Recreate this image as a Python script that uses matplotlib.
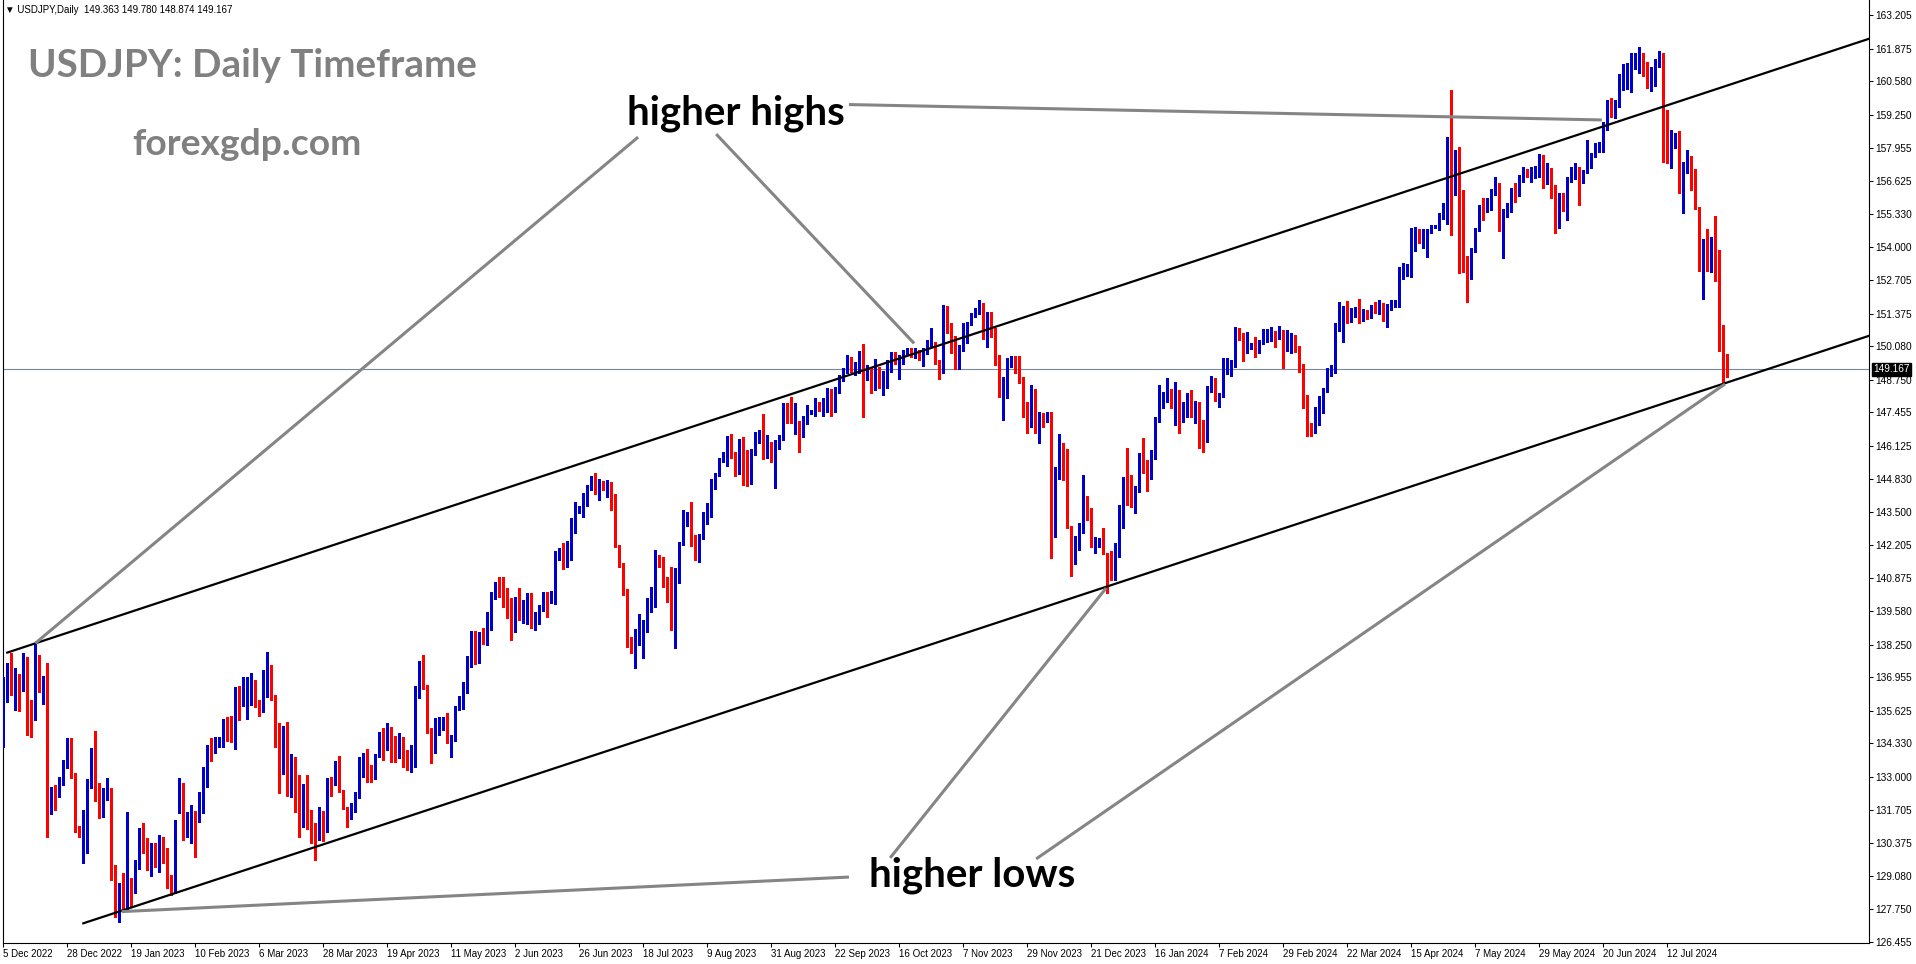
#!/usr/bin/env python

import numpy as np
import matplotlib as mpl
mpl.use('Agg')
import matplotlib.pyplot as plt

mpl.rcParams['font.family'] = ['Liberation Sans', 'DejaVu Sans']
mpl.rcParams['font.size'] = 7
mpl.rcParams['axes.linewidth'] = 0.8
mpl.rcParams['savefig.facecolor'] = 'white'

# ---- data: USDJPY daily candles, 5 Dec 2022 .. 2 Aug 2024 ----
open_px = [
    134.53,136.71,136.91,136.67,136.71,136.45,137.73,135.59,135.52,137.83,135.94,136.98,131.72,132.55,132.35,132.88,
    133.54,134.53,133.05,131.03,130.74,131.06,132.61,133.47,132.02,131.95,132.28,132.44,129.28,127.88,128.52,127.79,
    128.94,128.49,129.64,130.70,130.24,129.64,130.30,129.71,130.47,130.10,129.02,128.75,132.48,132.72,131.05,131.40,
    131.62,131.27,132.41,133.14,134.20,134.00,134.20,134.27,135.06,134.97,134.73,136.51,136.22,136.18,136.21,136.80,
    135.98,135.95,137.17,137.37,136.18,134.57,133.17,134.27,133.40,133.76,131.85,131.36,132.55,131.49,130.86,130.57,
    131.62,130.90,132.90,132.72,133.43,132.46,131.76,131.40,131.82,132.22,133.64,133.70,133.20,133.00,133.83,134.49,
    134.13,134.73,134.31,134.04,134.31,134.04,133.67,133.96,136.18,137.53,136.61,134.73,134.27,134.70,135.02,135.23,
    134.36,134.49,135.68,136.12,136.38,137.70,138.76,138.01,138.70,138.59,139.42,140.08,140.61,140.48,139.82,139.38,
    138.83,139.99,139.62,139.62,140.15,138.96,139.33,139.62,140.25,140.08,140.28,141.67,142.00,141.47,141.87,143.08,
    143.47,143.48,144.09,144.48,144.71,144.24,144.67,144.45,144.64,144.11,142.16,141.37,140.41,138.50,138.06,138.63,
    138.72,138.83,139.62,140.08,141.60,141.50,140.91,140.28,139.46,140.94,142.26,143.32,143.32,142.55,141.73,142.46,
    143.39,143.74,144.71,145.01,145.56,145.56,146.39,145.86,145.30,146.20,145.94,144.77,145.83,146.43,146.52,145.86,
    146.23,145.54,146.07,146.39,147.75,147.68,147.25,146.99,146.52,147.05,147.45,147.45,147.71,147.58,147.52,148.37,
    147.52,148.28,148.84,149.07,149.60,149.27,149.53,149.82,149.00,149.16,148.47,149.11,148.44,148.63,149.13,149.77,
    149.29,149.50,149.80,149.90,149.77,149.82,149.69,149.82,150.13,150.19,149.50,149.03,151.54,150.96,150.39,149.33,
    149.99,150.30,150.99,151.36,151.38,151.71,150.56,151.41,150.75,149.56,148.33,148.37,149.50,149.53,149.40,148.71,
    147.52,147.26,148.18,146.69,147.26,147.12,147.35,144.14,144.91,146.20,145.50,142.92,141.84,142.02,142.72,143.82,
    143.58,142.13,142.20,142.33,141.84,141.36,140.88,141.76,143.29,144.64,144.48,144.17,144.44,145.77,145.27,144.88,
    145.63,147.13,148.10,148.01,148.24,147.55,148.27,147.35,147.52,148.10,147.28,147.55,146.89,146.43,148.41,148.63,
    147.88,148.10,149.27,149.27,149.27,150.75,150.52,149.86,150.06,150.09,149.86,150.26,150.50,150.50,150.66,150.43,
    150.69,149.93,150.06,150.48,150.03,149.33,147.97,147.02,146.78,147.66,147.71,148.34,148.94,149.03,150.83,151.22,
    151.62,151.22,151.41,151.51,151.22,151.36,151.22,151.64,151.51,151.62,151.32,151.58,151.75,151.64,153.08,153.20,
    152.99,154.22,154.66,154.32,154.61,154.66,154.79,154.71,155.19,155.51,157.83,156.27,157.66,154.40,153.63,152.90,
    153.86,154.69,155.51,155.45,155.61,156.11,156.40,154.85,155.37,155.58,156.25,156.07,156.74,156.96,156.83,156.83,
    157.09,157.57,156.77,157.09,156.04,154.85,156.07,155.48,156.67,156.96,157.07,156.60,156.96,157.17,157.66,157.83,
    158.02,158.85,159.68,159.47,159.60,160.66,160.63,160.63,161.40,161.36,161.63,161.19,160.70,160.70,161.19,161.59,
    158.81,157.96,158.02,158.32,156.14,157.33,157.36,157.00,155.55,153.80,153.89,153.52,153.96,152.73,149.90,149.363,
]
high_px = [
    136.98,137.50,137.93,137.31,137.10,137.90,137.75,136.05,138.30,137.83,137.00,137.50,132.60,132.68,133.01,133.67,
    134.56,134.55,133.14,131.06,131.69,132.90,134.13,134.83,132.75,132.55,132.94,132.55,129.51,128.78,129.18,131.62,
    128.98,129.71,130.96,131.19,130.57,130.37,130.37,130.70,130.63,130.17,129.11,131.29,132.97,132.75,131.62,131.89,
    131.65,132.42,133.41,134.27,134.53,134.60,134.57,135.28,135.36,135.42,136.58,136.61,136.95,136.98,137.13,136.84,
    136.05,137.24,137.97,137.42,136.25,135.13,135.00,135.19,133.91,133.80,133.08,132.72,133.08,131.69,131.19,131.82,
    131.66,132.94,132.98,133.64,133.83,132.48,131.80,131.95,132.41,133.80,133.94,134.09,133.47,133.91,134.80,134.93,
    135.15,134.99,134.62,134.75,134.60,134.07,134.27,136.61,137.61,137.83,136.65,134.93,135.32,135.39,135.39,135.55,
    134.66,135.81,136.21,136.78,137.80,138.80,138.80,138.76,138.89,139.55,140.35,140.74,140.94,140.94,140.48,140.08,
    140.15,140.48,140.02,140.28,140.28,139.55,139.82,140.35,140.35,140.38,141.97,142.07,142.26,142.37,143.25,143.91,
    143.74,144.25,144.58,144.93,145.06,144.80,144.75,144.78,144.71,144.22,142.20,141.47,140.45,138.56,138.88,139.46,
    139.22,140.08,140.55,141.99,141.80,141.73,140.94,141.31,141.27,142.33,143.58,143.52,143.91,142.59,142.63,143.52,
    143.85,144.80,145.04,145.63,145.90,146.50,146.60,145.90,146.40,146.49,145.96,145.99,146.69,146.76,147.39,146.56,
    146.29,146.36,146.56,147.81,147.84,148.05,147.81,147.12,147.31,147.75,147.55,148.01,147.88,148.01,148.41,148.40,
    148.47,148.94,149.20,149.73,149.66,149.46,149.90,150.17,149.33,149.24,149.56,149.27,149.11,149.53,149.86,149.86,
    149.73,149.93,149.99,149.99,149.99,149.93,149.99,150.32,150.79,150.26,149.53,151.71,151.67,150.99,150.48,150.13,
    150.99,151.05,151.41,151.58,151.91,151.78,151.45,151.45,150.79,149.73,148.84,149.60,149.69,149.69,149.69,148.84,
    147.88,148.54,148.37,147.48,147.42,147.48,147.48,145.30,146.60,146.24,145.99,142.95,142.55,143.08,144.97,144.14,
    143.65,142.53,142.46,142.86,141.87,141.97,142.26,143.78,144.91,146.03,144.97,144.53,145.86,146.43,145.57,145.96,
    147.28,148.54,148.28,148.80,148.37,148.67,148.34,147.88,148.24,148.34,147.92,147.88,147.15,148.50,148.90,148.80,
    148.24,149.60,149.60,149.53,150.85,150.79,150.59,150.66,150.22,150.43,150.32,150.75,150.75,150.83,150.70,150.88,
    150.72,150.72,150.61,150.52,150.09,149.37,148.14,147.05,147.68,148.10,148.41,149.20,149.33,151.01,151.84,151.67,
    151.88,151.58,151.62,151.97,151.54,151.51,151.71,151.84,151.91,151.80,151.75,151.93,151.93,153.23,153.36,153.34,
    154.75,154.82,154.71,154.71,154.71,154.88,154.88,155.37,155.77,158.39,160.24,157.86,157.96,156.27,153.66,153.96,
    154.75,155.68,155.94,155.94,156.30,156.80,156.54,155.51,155.74,156.34,156.54,156.87,157.20,157.09,157.17,157.22,
    157.70,157.66,157.36,157.13,156.47,156.17,156.14,156.78,157.20,157.36,157.17,157.07,158.25,157.73,158.12,158.19,
    158.95,159.84,159.91,159.84,160.87,161.27,161.30,161.69,161.72,161.93,161.69,161.36,161.14,161.45,161.80,161.72,
    159.44,158.65,158.52,158.62,157.40,157.86,157.62,157.09,155.61,154.32,154.71,154.40,155.24,153.89,150.92,149.780,
]
low_px = [
    134.17,135.98,136.25,135.65,135.63,136.40,134.66,134.57,135.26,136.38,135.90,130.63,131.53,131.69,132.22,132.68,
    133.34,132.94,130.83,130.60,129.57,129.97,132.55,132.05,131.36,131.43,132.08,128.91,127.46,127.26,127.72,127.72,
    127.86,128.38,129.34,129.97,129.31,129.07,129.44,129.24,129.57,128.58,128.32,128.38,131.56,130.50,130.63,130.39,
    129.84,131.23,131.56,132.61,133.64,133.96,134.18,134.20,134.44,134.40,134.09,135.26,135.81,135.28,135.85,135.79,
    135.42,135.59,136.18,136.05,134.17,132.35,133.12,132.24,132.22,131.62,130.63,131.03,130.92,130.37,129.71,130.50,
    130.47,130.83,132.24,132.68,132.42,131.72,131.00,131.32,131.62,132.18,133.01,132.78,132.80,132.90,133.78,133.67,
    134.07,133.60,133.60,133.74,133.41,133.27,133.20,133.41,136.12,136.50,134.76,133.54,133.94,134.66,134.86,134.36,
    133.78,134.44,135.64,135.68,136.31,137.35,137.48,137.53,138.27,138.23,138.83,140.04,140.15,139.75,139.32,138.43,
    138.76,139.22,139.09,139.06,138.89,138.83,139.06,139.59,139.33,139.91,139.86,141.60,141.23,141.31,141.60,142.69,
    143.45,143.29,143.74,144.38,144.20,143.98,144.38,144.11,143.58,142.10,141.31,140.22,138.17,137.90,137.31,138.23,
    137.70,138.76,139.55,139.72,141.31,140.55,139.95,138.83,138.10,140.70,142.20,142.95,142.16,141.60,141.54,142.42,
    143.03,143.29,144.40,144.95,145.50,145.33,145.63,144.93,145.00,144.58,144.53,144.61,145.76,146.23,145.59,145.63,
    145.50,144.44,145.99,146.35,147.05,147.05,146.60,145.90,146.49,147.00,147.39,147.31,147.52,147.31,147.48,147.31,
    147.48,148.21,148.71,149.03,149.07,148.94,149.03,147.28,148.74,148.24,148.34,148.44,148.14,148.44,149.07,149.37,
    148.77,149.37,149.73,149.66,149.63,149.53,149.29,149.77,150.06,149.37,148.77,149.00,150.62,149.82,149.16,149.16,
    149.90,150.19,150.92,151.22,151.36,150.35,150.03,150.46,149.33,148.05,147.15,148.01,149.24,149.03,148.63,147.28,
    146.65,146.86,146.65,146.23,146.86,147.09,141.67,142.53,144.80,144.77,142.89,140.97,141.44,141.99,142.66,143.19,
    142.10,141.89,142.10,141.83,140.28,140.81,140.81,141.71,142.89,143.78,143.69,143.45,144.31,145.04,144.35,144.80,
    145.59,147.09,147.62,147.88,147.62,146.95,146.65,147.09,147.28,147.26,147.02,146.03,145.90,146.30,148.28,147.92,
    147.66,148.05,148.98,148.90,149.24,150.32,149.51,149.80,149.96,149.66,149.82,150.17,150.26,150.30,150.06,150.35,
    149.20,149.90,149.80,149.86,149.07,147.62,146.52,146.52,146.63,146.95,147.44,148.28,148.90,149.00,150.69,150.26,
    150.98,151.05,151.22,151.01,151.09,151.14,151.18,151.38,151.36,151.09,150.83,151.51,151.64,151.62,152.73,152.86,
    152.81,153.87,154.16,153.96,153.60,154.58,154.75,154.69,155.11,154.93,154.49,156.07,152.99,153.03,151.84,152.73,
    153.83,154.63,155.08,155.41,155.48,156.07,154.66,153.56,155.22,155.41,155.81,156.03,156.60,156.80,156.60,156.74,
    156.80,156.34,156.51,155.94,154.56,154.75,155.45,155.08,156.60,156.70,155.68,156.54,156.93,157.13,157.60,157.79,
    157.79,158.65,159.15,159.11,159.55,160.24,160.26,160.17,161.06,160.93,160.79,160.30,160.21,160.40,161.14,157.40,
    157.33,157.13,157.93,156.14,155.35,156.93,156.27,155.51,153.07,151.94,153.07,153.03,152.68,149.90,148.67,148.874,
]
close_px = [
    136.91,137.13,136.62,136.74,136.62,137.73,135.65,135.52,137.83,136.78,136.98,131.76,132.51,132.42,132.88,133.54,
    134.53,133.05,131.16,130.63,131.06,132.72,133.47,132.11,131.93,132.32,132.55,129.38,127.88,128.58,128.19,128.98,
    128.49,129.67,130.74,130.24,129.64,130.30,129.84,130.50,130.10,129.02,128.75,131.27,132.72,131.09,131.49,131.58,
    131.45,132.41,133.14,134.20,134.00,134.20,134.33,135.10,134.97,134.73,136.51,136.29,136.28,136.24,136.80,135.85,
    135.89,137.20,137.40,136.18,135.13,133.30,134.27,132.28,133.83,131.93,131.36,132.51,131.36,130.92,130.76,131.62,
    130.92,132.90,132.75,132.85,132.46,131.76,131.40,131.82,132.22,133.67,133.74,133.17,133.00,133.80,134.57,134.13,
    134.77,134.31,134.13,134.31,133.78,133.67,134.07,136.31,137.53,136.58,134.80,134.33,135.12,135.19,135.32,134.40,
    134.62,135.79,136.18,136.45,137.77,138.76,138.01,138.36,138.63,139.51,140.28,140.68,140.44,139.78,139.36,138.83,
    140.02,139.65,139.71,140.21,138.96,139.42,139.65,140.25,140.12,140.35,141.93,142.03,141.47,141.93,143.12,143.88,
    143.55,144.11,144.54,144.80,144.27,144.71,144.48,144.71,144.09,142.13,141.34,140.39,138.54,138.06,138.85,138.80,
    138.89,139.69,140.15,141.89,141.50,140.91,140.28,139.49,141.21,142.29,143.39,143.36,142.53,141.76,142.50,143.45,
    143.74,144.77,145.01,145.59,145.63,146.43,145.86,145.37,146.23,145.90,144.84,145.90,146.49,146.56,145.86,146.23,
    145.54,146.29,146.49,147.75,147.66,147.28,147.79,146.56,147.09,147.48,147.48,147.88,147.58,147.94,148.37,147.55,
    148.41,148.90,149.13,149.66,149.37,149.37,149.86,149.03,149.16,148.47,149.24,148.47,148.74,149.37,149.82,149.56,
    149.66,149.86,149.93,149.77,149.86,149.69,149.90,150.26,150.39,149.47,149.03,151.67,150.92,150.39,149.33,150.09,
    150.52,150.99,151.36,151.51,151.71,150.56,151.41,150.75,149.56,148.37,148.41,149.56,149.56,149.40,148.67,147.44,
    147.26,148.24,146.82,147.26,147.18,147.35,144.14,145.24,146.20,145.46,142.92,141.87,142.53,142.86,143.85,143.58,
    142.13,142.46,142.42,141.87,141.40,141.01,142.03,143.35,144.64,144.53,144.25,144.51,145.81,145.30,144.91,145.81,
    147.18,148.18,148.21,148.21,148.10,148.37,147.52,147.68,148.14,147.48,147.62,146.89,146.43,148.45,148.67,147.97,
    148.18,149.33,149.33,149.40,150.79,150.59,149.93,150.19,150.13,149.99,150.30,150.56,150.56,150.69,150.50,150.75,
    149.99,150.13,150.56,150.03,149.37,148.05,147.09,146.91,147.65,147.81,148.34,149.07,149.16,150.88,151.22,151.64,
    151.45,151.45,151.54,151.32,151.41,151.30,151.67,151.51,151.71,151.32,151.67,151.84,151.80,153.13,153.26,153.26,
    154.22,154.71,154.32,154.66,154.66,154.84,154.87,155.35,155.64,158.28,156.27,157.83,154.36,153.63,152.90,153.89,
    154.69,155.55,155.45,155.77,156.23,156.43,154.85,155.41,155.64,156.27,156.17,156.83,156.96,156.87,156.93,157.17,
    157.66,156.77,157.27,156.07,154.85,156.11,155.58,156.74,157.04,157.13,156.67,156.96,157.40,157.70,157.86,158.10,
    158.92,159.77,159.58,159.64,160.79,160.76,160.83,161.43,161.45,161.69,161.19,160.74,160.83,161.27,161.66,158.85,
    157.89,158.41,158.41,156.17,157.36,157.53,157.04,155.55,153.87,153.92,153.73,154.05,152.73,149.95,149.40,149.167,
]

last_price = 149.167

# date labels every 16 bars
date_labels = ['5 Dec 2022', '28 Dec 2022', '19 Jan 2023', '10 Feb 2023', '6 Mar 2023', '28 Mar 2023',
               '19 Apr 2023', '11 May 2023', '2 Jun 2023', '26 Jun 2023', '18 Jul 2023', '9 Aug 2023',
               '31 Aug 2023', '22 Sep 2023', '16 Oct 2023', '7 Nov 2023', '29 Nov 2023', '21 Dec 2023',
               '16 Jan 2024', '7 Feb 2024', '29 Feb 2024', '22 Mar 2024', '15 Apr 2024', '7 May 2024',
               '29 May 2024', '20 Jun 2024', '12 Jul 2024']
date_bars = [16 * k for k in range(len(date_labels))]

price_ticks = [163.205, 161.875, 160.580, 159.250, 157.955, 156.625, 155.330, 154.000, 152.705, 151.375,
               150.080, 148.750, 147.455, 146.125, 144.830, 143.500, 142.205, 140.875, 139.580, 138.250,
               136.955, 135.625, 134.330, 133.000, 131.705, 130.375, 129.080, 127.750, 126.455]

# channel lines (bar index, price)
upper_x = [1.0, 480.0]
upper_y = [137.93, 162.98]
lower_x = [20.0, 480.0]
lower_y = [127.196, 151.20]

# grey pointer lines (bar index, price)
hh_lines = [([8.0, 158.7], [138.30, 158.37]),
            ([178.2, 227.7], [158.49, 150.19]),
            ([211.4, 399.6], [159.66, 159.05])]
hl_lines = [([29.6, 211.4], [127.66, 129.03]),
            ([221.7, 275.7], [129.79, 140.49]),
            ([258.2, 430.4], [129.75, 148.58])]

BLUE = '#0000cc'
RED = '#ff0000'
W, H = 1916, 964

fig = plt.figure(figsize=(W / 100, H / 100), dpi=100)
ax = fig.add_axes([2.5 / W, (H - 943) / H, (1869 - 2.5) / W, 943 / H])

o = np.array(open_px)
hi = np.array(high_px)
lo = np.array(low_px)
c = np.array(close_px)
idx = np.arange(len(c))
col = np.where(c >= o, BLUE, RED)

ax.vlines(idx, lo, hi, colors=col, linewidth=0.75, antialiased=False, zorder=3)
body_h = np.maximum(np.abs(c - o), 0.04)
ax.bar(idx, body_h, bottom=np.minimum(o, c), width=0.78, color=col, linewidth=0,
       antialiased=False, zorder=3)

ax.axhline(last_price, color='#778899', lw=0.8, zorder=2)

ax.plot(upper_x, upper_y, color='black', lw=1.6, zorder=4)
ax.plot(lower_x, lower_y, color='black', lw=1.6, zorder=4)
for xs, ys in hh_lines + hl_lines:
    ax.plot(xs, ys, color='#858585', lw=2.2, zorder=5, solid_capstyle='butt')

ax.set_xlim(-0.2, 466.4)
ax.set_ylim(126.415, 163.806)

ax.spines['top'].set_visible(False)
ax.yaxis.tick_right()
ax.set_yticks(price_ticks)
ax.set_yticklabels(['%.3f' % p for p in price_ticks])
ax.set_xticks(date_bars)
ax.set_xticklabels(date_labels, ha='left')
ax.tick_params(axis='both', direction='out', length=3, width=0.75, pad=1.5, labelsize=7.3)
ax.tick_params(axis='x', pad=1.0, labelsize=7)

# current price box
fig.text(1873 / W, 1 - 369.5 / H, '149.167', color='white', fontsize=7.3, ha='left', va='center',
         bbox=dict(boxstyle='square,pad=0.12', fc='black', ec='black'))

# header and annotations
fig.text(5 / W, 1 - 10 / H, '\u25bc USDJPY,Daily  149.363 149.780 148.874 149.167',
         fontsize=7, ha='left', va='center')
lato = ['Lato', 'DejaVu Sans']
fig.text(28 / W, 1 - 77 / H, 'USDJPY: Daily Timeframe', color='#808080', ha='left', va='baseline',
         family=lato, weight='bold', fontsize=27.8)
fig.text(132 / W, 1 - 155 / H, 'forexgdp.com', color='#808080', ha='left', va='baseline',
         family=lato, weight='bold', fontsize=26.8)
fig.text(627 / W, 1 - 125 / H, 'higher highs', color='black', ha='left', va='baseline',
         family=lato, weight='bold', fontsize=29)
fig.text(869 / W, 1 - 887 / H, 'higher lows', color='black', ha='left', va='baseline',
         family=lato, weight='bold', fontsize=29)

plt.savefig('out.png', dpi=100)
